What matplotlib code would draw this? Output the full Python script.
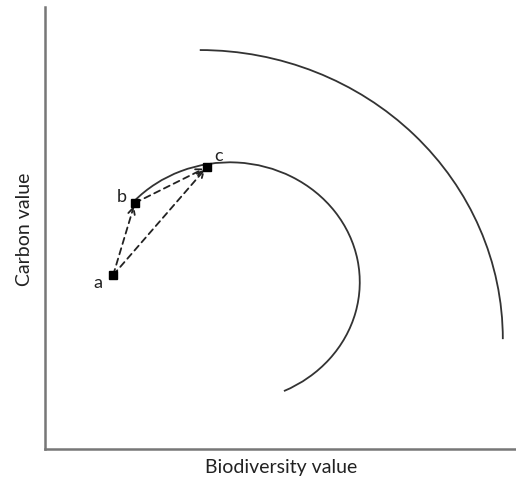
import matplotlib.pyplot as plt
from matplotlib.patches import Arc

plt.rcParams['font.family'] = ['Lato', 'DejaVu Sans']

# Points on the conceptual trade-off diagram (data units 0-100)
point_names = ["a", "b", "c"]
point_x = [14.4, 19.0, 34.3]
point_y = [39.4, 55.7, 63.8]

# Transitions drawn as dashed arrows (from, to)
moves = [("a", "b"), ("a", "c"), ("b", "c")]

# Frontier arcs: centre x, centre y, x radius, y radius, start angle, end angle
inner_arc = [39.2, 37.8, 27.6, 27.1, -65, 138]
outer_arc = [32.8, 24.9, 64.4, 65.4, 0, 90]

fig = plt.figure(figsize=(5.16, 4.81), dpi=100)
ax = fig.add_axes([0.088, 0.064, 0.912, 0.919])
ax.set_xlim(0, 100)
ax.set_ylim(0, 100)

line_col = "#333333"
for cx, cy, rx, ry, t1, t2 in (inner_arc, outer_arc):
    ax.add_patch(Arc((cx, cy), 2 * rx, 2 * ry, theta1=t1, theta2=t2,
                     color=line_col, linewidth=1.3))

pos = dict(zip(point_names, zip(point_x, point_y)))
for start, end in moves:
    ax.annotate("", xy=pos[end], xytext=pos[start],
                arrowprops=dict(arrowstyle="->", linestyle=(0, (3.5, 2.5)),
                                color="#222222", linewidth=1.3,
                                shrinkA=0, shrinkB=2, mutation_scale=12))

ax.plot(point_x, point_y, linestyle="none", marker="s", markersize=6,
        color="black", zorder=5)

# label offsets in points
offsets = {"a": (-14, -5), "b": (-13, 5), "c": (5, 9)}
for name in point_names:
    ax.annotate(name, pos[name], xytext=offsets[name], textcoords="offset points",
                ha="left", va="center", fontsize=13, color="#222222")

for side in ("top", "right"):
    ax.spines[side].set_visible(False)
for side in ("left", "bottom"):
    ax.spines[side].set_color("#777777")
    ax.spines[side].set_linewidth(1.8)
ax.set_xticks([])
ax.set_yticks([])

ax.set_xlabel("Biodiversity value", fontsize=14, labelpad=6, color="#222222")
ax.set_ylabel("Carbon value", fontsize=14, labelpad=9, color="#222222")

fig.savefig("out.png", dpi=100, facecolor="white")
